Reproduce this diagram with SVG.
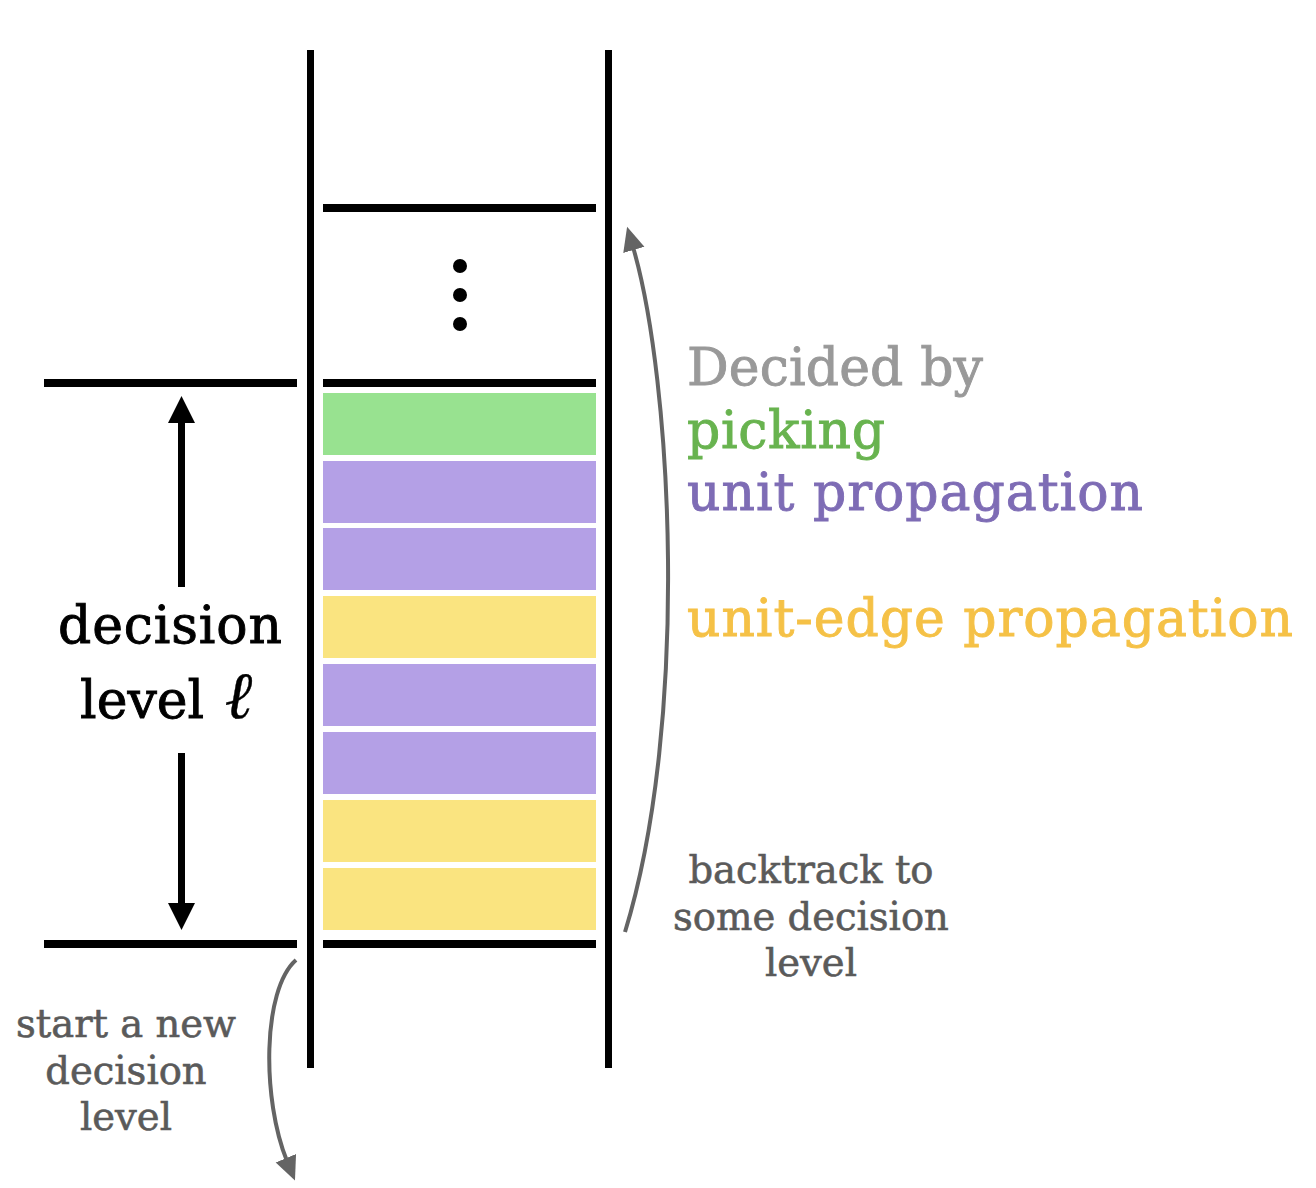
<svg xmlns="http://www.w3.org/2000/svg" width="1316" height="1188" viewBox="0 0 1316 1188">
<style>
.bar{stroke:#000;stroke-width:7;fill:none}
.hl{stroke:#000;stroke-width:8;fill:none}
.g{fill:#98e290}.p{fill:#b4a0e6}.y{fill:#fae480}
.big{font-family:"DejaVu Serif","Liberation Serif",serif;font-size:52px;stroke-width:0.9}
.small{font-family:"DejaVu Serif","Liberation Serif",serif;font-size:38.5px;fill:#5a5a5a;stroke:#5a5a5a;stroke-width:0.6;text-anchor:middle}
.curve{stroke:#646464;stroke-width:4;fill:none}
.shaft{stroke:#000;stroke-width:7}
</style>
<defs>
<marker id="gh" markerUnits="userSpaceOnUse" viewBox="0 0 30 24" markerWidth="30" markerHeight="24" refX="3" refY="11" orient="auto">
<path d="M0,0 L24,11 L0,22 z" fill="#646464"/>
</marker>
</defs>
<rect width="1316" height="1188" fill="#fff"/>
<g id="stack">
<line class="bar" x1="310.5" y1="50" x2="310.5" y2="1068"/>
<line class="bar" x1="608.5" y1="50" x2="608.5" y2="1068"/>
<line class="hl" x1="323" y1="208" x2="596" y2="208"/>
<line class="hl" x1="323" y1="383" x2="596" y2="383"/>
<line class="hl" x1="323" y1="944" x2="596" y2="944"/>
<line class="hl" x1="44" y1="383" x2="297" y2="383"/>
<line class="hl" x1="44" y1="944" x2="297" y2="944"/>
<circle cx="460" cy="266" r="7"/>
<circle cx="460" cy="295" r="7"/>
<circle cx="460" cy="324" r="7"/>
</g>
<g id="entries">
<rect class="g" x="323" y="393" width="273" height="62"/>
<rect class="p" x="323" y="461" width="273" height="62"/>
<rect class="p" x="323" y="528" width="273" height="62"/>
<rect class="y" x="323" y="596" width="273" height="62"/>
<rect class="p" x="323" y="664" width="273" height="62"/>
<rect class="p" x="323" y="732" width="273" height="62"/>
<rect class="y" x="323" y="800" width="273" height="62"/>
<rect class="y" x="323" y="868" width="273" height="62"/>
</g>
<g id="level-label">
<line class="shaft" x1="181.5" y1="420" x2="181.5" y2="587"/>
<polygon points="181.5,396 168,423 195,423"/>
<line class="shaft" x1="181.5" y1="753" x2="181.5" y2="906"/>
<polygon points="181.5,930 168,903 195,903"/>
<text class="big" x="58" y="643" textLength="224" fill="#000" stroke="#000">decision</text>
<text class="big" x="80" y="718" fill="#000" stroke="#000">level <tspan dx="4" font-style="italic" font-size="66" stroke-width="0.4">ℓ</tspan></text>
</g>
<g id="legend">
<text class="big" x="687" y="385" textLength="296" fill="#999999" stroke="#999999">Decided by</text>
<text class="big" x="687" y="448" textLength="198" fill="#68b34f" stroke="#68b34f">picking</text>
<text class="big" x="687" y="510" textLength="456" fill="#7e6cb5" stroke="#7e6cb5">unit propagation</text>
<text class="big" x="687" y="636" textLength="606" fill="#f5c146" stroke="#f5c146">unit-edge propagation</text>
</g>
<g id="connectors">
<path class="curve" d="M625,932 C690,720 672,380 633,247" marker-end="url(#gh)"/>
<path class="curve" d="M296,960 C262,990 262,1100 287,1161" marker-end="url(#gh)"/>
</g>
<g id="notes">
<text class="small" x="811" y="883">backtrack to</text>
<text class="small" x="811" y="930">some decision</text>
<text class="small" x="811" y="976">level</text>
<text class="small" x="126" y="1037">start a new</text>
<text class="small" x="126" y="1084">decision</text>
<text class="small" x="126" y="1130">level</text>
</g>
</svg>
